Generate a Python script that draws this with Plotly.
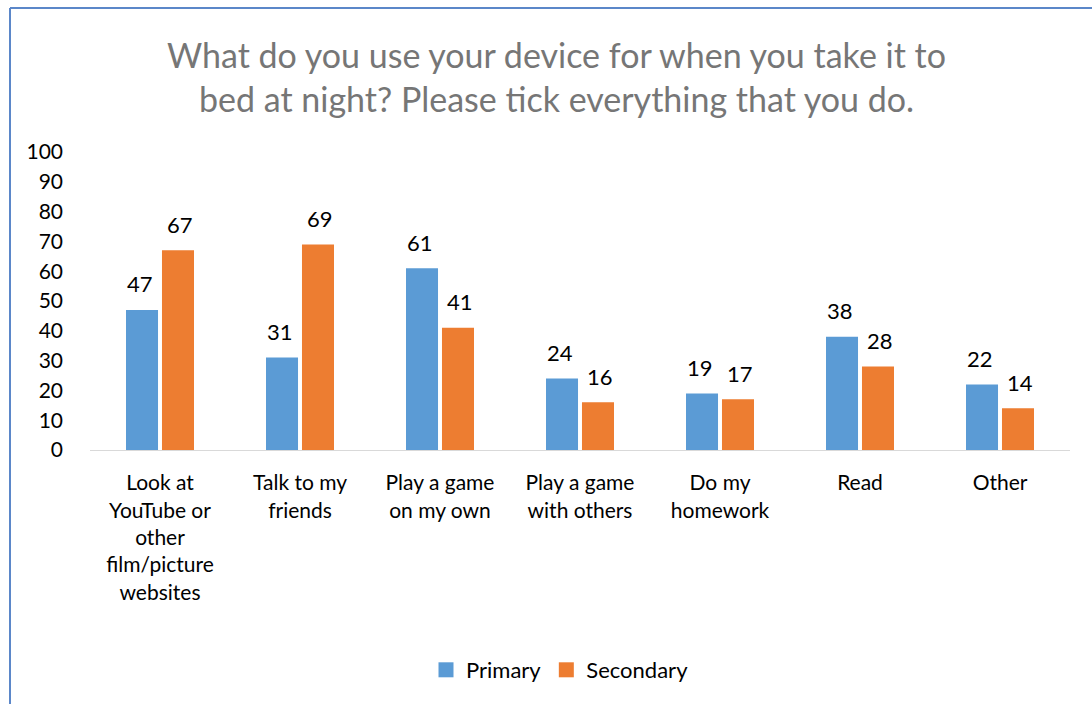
import plotly.graph_objects as go

categories = [
    "Look at<br>YouTube or<br>other<br>film/picture<br>websites",
    "Talk to my<br>friends",
    "Play a game<br>on my own",
    "Play a game<br>with others",
    "Do my<br>homework",
    "Read",
    "Other",
]
primary = [47, 31, 61, 24, 19, 38, 22]
secondary = [67, 69, 41, 16, 17, 28, 14]
y_ticks = list(range(0, 101, 10))

FONT = "Lato, Carlito, Calibri, sans-serif"
BLUE, ORANGE = "#5b9bd5", "#ed7d31"

fig = go.Figure()
fig.add_trace(go.Bar(x=categories, y=primary, name="Primary", showlegend=False,
                     marker=dict(color=BLUE, line=dict(width=0))))
fig.add_trace(go.Bar(x=categories, y=secondary, name="Secondary", showlegend=False,
                     marker=dict(color=ORANGE, line=dict(width=0))))
# legend entries with square swatches
for name, col in (("Primary", BLUE), ("Secondary", ORANGE)):
    fig.add_trace(go.Scatter(x=[None], y=[None], mode="markers", name=name,
                             marker=dict(symbol="square", size=15, color=col)))

W, H = 1092, 704
L, R, T, B = 90, 22, 152, 254
PW, PH = W - L - R, H - T - B

annotations = [dict(
    text="What do you use your device for when you take it to<br>bed at night? Please tick everything that you do.",
    xref="paper", yref="paper", x=(556 - L) / PW, y=1 + (T - 77) / PH, xanchor="center", yanchor="middle",
    showarrow=False, font=dict(size=34, color="#767676", family=FONT),
)]
for series, shift in ((primary, -20), (secondary, 20)):
    for c, v in zip(categories, series):
        annotations.append(dict(x=c, y=v, xref="x", yref="y", text=str(v), showarrow=False,
                                xshift=shift, yshift=26, yanchor="middle",
                                font=dict(size=22, color="#000000", family=FONT)))

fig.update_layout(
    width=W, height=H,
    margin=dict(l=L, r=R, t=T, b=B, pad=0),
    paper_bgcolor="white", plot_bgcolor="white",
    font=dict(family=FONT, size=21, color="#000000"),
    barmode="group", bargap=0.486, bargroupgap=0.11,
    showlegend=True,
    legend=dict(orientation="h", x=(560 - L) / PW, xanchor="center", y=-(670 - (T + PH)) / PH,
                yanchor="middle", font=dict(size=22, family=FONT), traceorder="normal",
                itemwidth=30),
    xaxis=dict(showline=True, linecolor="#d9d9d9", linewidth=1.3, ticks="",
               tickfont=dict(size=21, family=FONT), showgrid=False, ticklabelstandoff=14),
    yaxis=dict(range=[0, 100], tickvals=y_ticks, showgrid=False, showline=False,
               zeroline=False, tickfont=dict(size=21, family=FONT), ticks="",
               ticklabelstandoff=26),
    annotations=annotations,
    shapes=[
        dict(type="line", xref="paper", yref="paper",
             x0=(10 - L) / PW, x1=(10 - L) / PW, y0=1 + (T - 8) / PH, y1=-(B) / PH - 0.01,
             line=dict(color="#5b87c9", width=2)),
        dict(type="line", xref="paper", yref="paper",
             x0=(10 - L) / PW, x1=(W - L) / PW + 0.01, y0=1 + (T - 8) / PH, y1=1 + (T - 8) / PH,
             line=dict(color="#5b87c9", width=2)),
    ],
)

fig.write_html("out.html")
